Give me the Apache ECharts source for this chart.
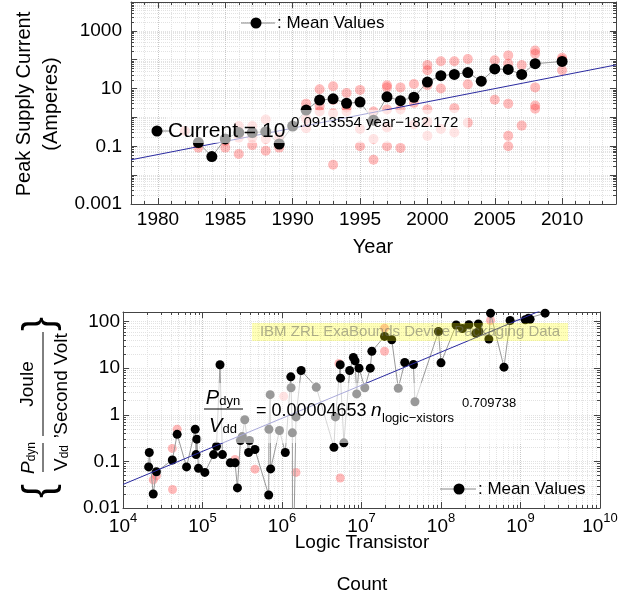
<!DOCTYPE html>
<html>
<head>
<meta charset="utf-8">
<script src="https://cdn.jsdelivr.net/npm/echarts@6.0.0/dist/echarts.min.js"></script>
<style>
html,body{margin:0;padding:0;background:#fff;}
#chart{width:638px;height:598px;}
</style>
</head>
<body>
<div id="chart"></div>
<script>
// top panel: peak supply current by year
const meanYears = [1983,1984,1985,1986,1987,1988,1989,1990,1991,1992,1993,1994,1995,1996,1997,1998,1999,2000,2001,2002,2003,2004,2005,2006,2007,2008,2010];
const meanCurrent = [0.135,0.044,0.18,0.3,0.3,0.32,0.12,0.5,1.8,4.0,4.4,3.1,3.4,0.8,5.2,3.8,5.0,16.8,28,31,36,18,48,46,31,73,87];
const rawYears = [1982,1983,1985,1986,1987,1988,1989,1991,1992,1993,1994,1995,1996,1997,1998,1999,2000,2001,2002,2003,2005,2006,2007,2008,2010];
const rawCurrent = [
  [0.34],[0.09,0.12],[0.09,0.15],[0.054,0.5,0.2],[0.11,0.5,0.2],[0.07,0.18,0.85],[0.09,0.2],
  [3.0,0.42,0.9],[9.5,1.6,2.5],[12,1.4,0.023,4],[7,1.6,2.2],[9,0.1,0.4],[1.6,0.034,0.18],
  [13,11,1.9,0.45,0.1],[11,1.9,0.088],[14.5,3.2,0.57],[65,43,13,1.9,0.23,0.7],[88,10,0.4],
  [89,2.1,0.3],[105,14,0.66],[96,4.1],[141,73,3.0,0.23,0.1],[65,0.52],[209,160,11,2.6,2.0],[117,100,43]
];
const fitYears = [1978, 2014];
const fitCurrent = [0.034, 66];

// bottom panel: Pdyn/Vdd by logic transistor count
const meanN = [2.1e4,2.14e4,2.4e4,2.63e4,4.17e4,4.8e4,6.3e4,8.1e4,8.3e4,8.5e4,8.9e4,1.07e5,1.38e5,1.5e5,1.66e5,1.78e5,
  2.24e5,2.57e5,2.75e5,3.0e5,3.16e5,3.4e5,3.8e5,3.9e5,4.57e5,6.8e5,6.85e5,7.1e5,7.2e5,9.3e5,1.1e6,1.29e6,1.3e6,1.35e6,1.36e6,
  1.5e6,1.74e6,2.7e6,4.5e6,4.7e6,5.4e6,5.45e6,6.0e6,7.1e6,7.9e6,8.3e6,8.7e6,9.3e6,1.1e7,1.29e7,1.35e7,1.95e7,2.4e7,2.9e7,
  3.5e7,4.5e7,4.7e7,9.3e7,1.0e8,1.55e8,1.86e8,2.24e8,2.75e8,2.95e8,3.0e8,4.0e8,4.2e8,6.2e8,7.4e8,1.15e9,1.26e9,1.32e9,2.04e9];
const meanP = [0.076,0.155,0.02,0.06,0.107,0.38,0.076,0.49,0.14,0.3,0.071,0.058,0.14,0.21,11.8,0.14,
  0.093,0.093,0.027,0.28,0.34,0.78,0.155,0.28,0.18,0.019,0.49,2.7,0.069,0.46,0.155,6.5,3.8,0.41,0.0001,
  0.9,8.9,3.9,0.2,0.9,11.8,6.1,0.25,8.9,17,14.3,2.8,10,3.8,10,23,48,40.6,3.7,
  13.2,12,1.9,61,13,84,71,85,56,89,61,42,151,10.5,105,109,118,112,151];
const rawN = [2.4e4,2.63e4,4.17e4,4.2e4,4.8e4,2.57e5,4.57e5,1.05e6,1.5e6,5.2e6,5.4e6,1.95e7,1.95e7,4.2e8];
const rawP = [0.04,0.049,0.19,0.025,0.49,0.11,0.068,2.5,0.058,12.6,0.044,72,23,105];
const fitN = [1e4, 1e10];
const fitP = [0.032, 580];

const FONT = '"Liberation Sans", Arial, sans-serif';
const frameColor = '#444';

function decadeText(v) {
  const e = Math.round(Math.log10(v));
  return e >= 0 ? String(Math.pow(10, e)) : Math.pow(10, e).toFixed(-e);
}

function frameAxis(extra) {
  return Object.assign({
    axisLine: {show: true, onZero: false, lineStyle: {color: frameColor, width: 1}},
    axisTick: {show: true, inside: true, length: 6, lineStyle: {color: frameColor}},
    minorTick: {show: true, length: 3, lineStyle: {color: frameColor}},
    splitLine: {show: false},
    minorSplitLine: {show: false},
    axisLabel: {show: false}
  }, extra);
}
const gridDots = {show: true, lineStyle: {type: 'dotted', color: '#c8c8c8', width: 1}};
const minorDots = {show: true, lineStyle: {type: 'dotted', color: '#e2e2e2', width: 1}};
const labelBase = {color: '#000', fontFamily: FONT};

let rawTop = [];
rawYears.forEach((y, i) => rawCurrent[i].forEach(v => rawTop.push([y, v])));

const chart = echarts.init(document.getElementById('chart'));
const option = {
  animation: false,
  backgroundColor: '#fff',
  grid: [
    {left: 131, right: 22, top: 2, height: 202},
    {left: 123, right: 38, top: 312, height: 196}
  ],
  xAxis: [
    frameAxis({gridIndex: 0, type: 'value', min: 1978, max: 2014, splitNumber: 7, position: 'bottom',
      minorTick: {show: true, splitNumber: 5, length: 3, lineStyle: {color: frameColor}},
      splitLine: gridDots, minorSplitLine: minorDots,
      axisLabel: Object.assign({show: true, fontSize: 19, margin: 6, showMinLabel: false, showMaxLabel: false,
        formatter: v => (v % 5 === 0 ? String(v) : '')}, labelBase)}),
    frameAxis({gridIndex: 0, type: 'value', min: 1978, max: 2014, splitNumber: 7, position: 'top',
      minorTick: {show: true, splitNumber: 5, length: 3, lineStyle: {color: frameColor}}}),
    frameAxis({gridIndex: 1, type: 'log', min: 1e4, max: 1e10, interval: 1, position: 'bottom',
      minorTick: {show: true, splitNumber: 9, length: 3, lineStyle: {color: frameColor}},
      splitLine: gridDots, minorSplitLine: minorDots,
      axisLabel: Object.assign({show: true, margin: 4,
        formatter: v => '{b|10}{e|' + Math.round(Math.log10(v)) + '}',
        rich: {b: {fontSize: 19, lineHeight: 24, verticalAlign: 'bottom', fontFamily: FONT, color: '#000'},
               e: {fontSize: 13, lineHeight: 14, verticalAlign: 'top', fontFamily: FONT, color: '#000'}}}, labelBase)}),
    frameAxis({gridIndex: 1, type: 'log', min: 1e4, max: 1e10, interval: 1, position: 'top',
      minorTick: {show: true, splitNumber: 9, length: 3, lineStyle: {color: frameColor}}})
  ],
  yAxis: [
    frameAxis({gridIndex: 0, type: 'log', min: 0.001, max: 10000, interval: 1, position: 'left',
      minorTick: {show: true, splitNumber: 9, length: 3, lineStyle: {color: frameColor}},
      splitLine: minorDots, minorSplitLine: minorDots,
      axisLabel: Object.assign({show: true, fontSize: 19, margin: 9,
        formatter: v => (Math.abs(Math.round(Math.log10(v))) % 2 === 1 ? decadeText(v) : '')}, labelBase)}),
    frameAxis({gridIndex: 0, type: 'log', min: 0.001, max: 10000, interval: 1, position: 'right',
      minorTick: {show: true, splitNumber: 9, length: 3, lineStyle: {color: frameColor}}}),
    frameAxis({gridIndex: 1, type: 'log', min: 0.01, max: 160, interval: 1, position: 'left',
      minorTick: {show: true, splitNumber: 9, length: 3, lineStyle: {color: frameColor}},
      splitLine: minorDots, minorSplitLine: minorDots,
      axisLabel: Object.assign({show: true, fontSize: 19, margin: 3, showMaxLabel: false,
        formatter: v => (Math.abs(Math.log10(v) - Math.round(Math.log10(v))) < 1e-6 ? decadeText(v) : '')}, labelBase)}),
    frameAxis({gridIndex: 1, type: 'log', min: 0.01, max: 160, interval: 1, position: 'right',
      minorTick: {show: true, splitNumber: 9, length: 3, lineStyle: {color: frameColor}}})
  ],
  series: [
    {type: 'scatter', xAxisIndex: 0, yAxisIndex: 0, data: rawTop, symbolSize: 10, z: 2,
      itemStyle: {color: 'rgba(255,40,40,0.38)'}},
    {type: 'line', xAxisIndex: 0, yAxisIndex: 0, data: fitYears.map((y, i) => [y, fitCurrent[i]]),
      showSymbol: false, symbol: 'none', z: 3, lineStyle: {color: '#2a2aa0', width: 1}},
    {type: 'line', xAxisIndex: 0, yAxisIndex: 0, data: meanYears.map((y, i) => [y, meanCurrent[i]]),
      symbol: 'circle', symbolSize: 11, z: 4, itemStyle: {color: '#000'},
      lineStyle: {color: '#999', width: 1}},

    {type: 'scatter', xAxisIndex: 2, yAxisIndex: 2, data: rawN.map((n, i) => [n, rawP[i]]), symbolSize: 9, z: 2,
      itemStyle: {color: 'rgba(255,60,60,0.45)'}},
    {type: 'line', xAxisIndex: 2, yAxisIndex: 2, data: meanN.map((n, i) => [n, meanP[i]]),
      symbol: 'circle', symbolSize: 9, z: 3, itemStyle: {color: '#000'},
      lineStyle: {color: '#999', width: 1}},
    {type: 'line', xAxisIndex: 2, yAxisIndex: 2, data: fitN.map((n, i) => [n, fitP[i]]),
      symbol: 'none', z: 4, lineStyle: {color: '#2a2aa0', width: 1}}
  ],
  graphic: [
    // top legend
    {type: 'line', z: 100, shape: {x1: 241, y1: 23, x2: 275, y2: 23}, style: {stroke: '#888', lineWidth: 1}},
    {type: 'circle', z: 101, shape: {cx: 256, cy: 23, r: 5.5}, style: {fill: '#000'}},
    {type: 'text', z: 101, x: 277, y: 23, style: {text: ': Mean Values', font: '17px ' + FONT, fill: '#000', verticalAlign: 'middle'}},
    // top fit label
    {type: 'rect', z: 100, shape: {x: 166, y: 110, width: 302, height: 33}, style: {fill: 'rgba(255,255,255,0.6)'}},
    {type: 'line', z: 101, shape: {x1: 157, y1: 131, x2: 170, y2: 131}, style: {stroke: '#888', lineWidth: 1}},
    {type: 'circle', z: 101, shape: {cx: 157, cy: 131, r: 5.5}, style: {fill: '#000'}},
    {type: 'text', z: 101, x: 168, y: 131, style: {text: 'Current = 10', font: '21px ' + FONT, fill: '#000', verticalAlign: 'middle'}},
    {type: 'text', z: 101, x: 291, y: 123, style: {text: '0.0913554 year\u2212182.172', font: '15px ' + FONT, fill: '#000', verticalAlign: 'middle'}},
    // top axis names
    {type: 'text', z: 101, x: 38, y: 104, rotation: Math.PI / 2,
      style: {text: 'Peak Supply Current\n(Amperes)', font: '20px ' + FONT, lineHeight: 27, fill: '#000', align: 'center', verticalAlign: 'middle'}},
    {type: 'text', z: 101, x: 373, y: 247, style: {text: 'Year', font: '20px ' + FONT, fill: '#000', align: 'center', verticalAlign: 'middle'}},

    // bottom yellow label
    {type: 'rect', z: 100, shape: {x: 252, y: 323, width: 316, height: 18}, style: {fill: 'rgba(255,255,0,0.28)'}},
    {type: 'text', z: 101, x: 410, y: 332, style: {text: 'IBM ZRL ExaBounds Device Packaging Data', font: '15px ' + FONT, fill: 'rgba(110,110,100,0.55)', align: 'center', verticalAlign: 'middle'}},
    // bottom fit label
    {type: 'rect', z: 100, shape: {x: 200, y: 383, width: 325, height: 60}, style: {fill: 'rgba(255,255,255,0.6)'}},
    {type: 'text', z: 101, x: 223, y: 396, style: {text: '{i|P}{s|dyn}', align: 'center', verticalAlign: 'middle',
      rich: {i: {fontSize: 20, fontStyle: 'italic', fontFamily: FONT, lineHeight: 24, verticalAlign: 'bottom'},
             s: {fontSize: 13, fontFamily: FONT, lineHeight: 14, verticalAlign: 'bottom'}}}},
    {type: 'line', z: 101, shape: {x1: 204, y1: 409, x2: 243, y2: 409}, style: {stroke: '#000', lineWidth: 1}},
    {type: 'text', z: 101, x: 223, y: 424, style: {text: '{i|V}{s|dd}', align: 'center', verticalAlign: 'middle',
      rich: {i: {fontSize: 20, fontStyle: 'italic', fontFamily: FONT, lineHeight: 24, verticalAlign: 'bottom'},
             s: {fontSize: 13, fontFamily: FONT, lineHeight: 14, verticalAlign: 'bottom'}}}},
    {type: 'text', z: 101, x: 256, y: 411, style: {text: '= 0.00004653', font: '18px ' + FONT, fill: '#000', verticalAlign: 'middle'}},
    {type: 'text', z: 101, x: 371, y: 411, style: {text: 'n', font: 'italic 19px ' + FONT, fill: '#000', verticalAlign: 'middle'}},
    {type: 'text', z: 101, x: 382, y: 418, style: {text: 'logic\u2212xistors', font: '13px ' + FONT, fill: '#000', verticalAlign: 'middle'}},
    {type: 'text', z: 101, x: 462, y: 403, style: {text: '0.709738', font: '13px ' + FONT, fill: '#000', verticalAlign: 'middle'}},
    // bottom legend
    {type: 'line', z: 100, shape: {x1: 440, y1: 489, x2: 476, y2: 489}, style: {stroke: '#888', lineWidth: 1}},
    {type: 'circle', z: 101, shape: {cx: 459, cy: 489, r: 5.5}, style: {fill: '#000'}},
    {type: 'text', z: 101, x: 478, y: 489, style: {text: ': Mean Values', font: '17px ' + FONT, fill: '#000', verticalAlign: 'middle'}},
    // bottom axis names
    {type: 'text', z: 101, x: 362, y: 543, style: {text: 'Logic Transistor', font: '19px ' + FONT, fill: '#000', align: 'center', verticalAlign: 'middle'}},
    {type: 'text', z: 101, x: 362, y: 585, style: {text: 'Count', font: '19px ' + FONT, fill: '#000', align: 'center', verticalAlign: 'middle'}},
    {type: 'group', z: 101, x: 43, y: 410, rotation: Math.PI / 2, children: [
      {type: 'text', x: -81, y: -3, style: {text: '{', font: '300 42px ' + FONT, fill: '#000', align: 'center', verticalAlign: 'middle'}},
      {type: 'text', x: -48, y: -16, style: {text: '{i|P}{s|dyn}', align: 'center', verticalAlign: 'middle',
        rich: {i: {fontSize: 19, fontStyle: 'italic', fontFamily: FONT, lineHeight: 22, verticalAlign: 'bottom'},
               s: {fontSize: 12, fontFamily: FONT, lineHeight: 13, verticalAlign: 'bottom'}}}},
      {type: 'line', shape: {x1: -62, y1: 0, x2: -33, y2: 0}, style: {stroke: '#000', lineWidth: 1}},
      {type: 'text', x: -48, y: 17, style: {text: '{i|V}{s|dd}', align: 'center', verticalAlign: 'middle',
        rich: {i: {fontSize: 19, fontFamily: FONT, lineHeight: 22, verticalAlign: 'bottom'},
               s: {fontSize: 12, fontFamily: FONT, lineHeight: 13, verticalAlign: 'bottom'}}}},
      {type: 'text', x: -26, y: 8, style: {text: ',', font: '19px ' + FONT, fill: '#000', align: 'center', verticalAlign: 'middle'}},
      {type: 'text', x: 26, y: -15, style: {text: 'Joule', font: '19px ' + FONT, fill: '#000', align: 'center', verticalAlign: 'middle'}},
      {type: 'line', shape: {x1: -26, y1: 0, x2: 78, y2: 0}, style: {stroke: '#000', lineWidth: 1}},
      {type: 'text', x: 26, y: 19, style: {text: 'Second Volt', font: '19px ' + FONT, fill: '#000', align: 'center', verticalAlign: 'middle'}},
      {type: 'text', x: 86, y: -3, style: {text: '}', font: '300 42px ' + FONT, fill: '#000', align: 'center', verticalAlign: 'middle'}}
    ]}
  ]
};
chart.setOption(option);
</script>
</body>
</html>
